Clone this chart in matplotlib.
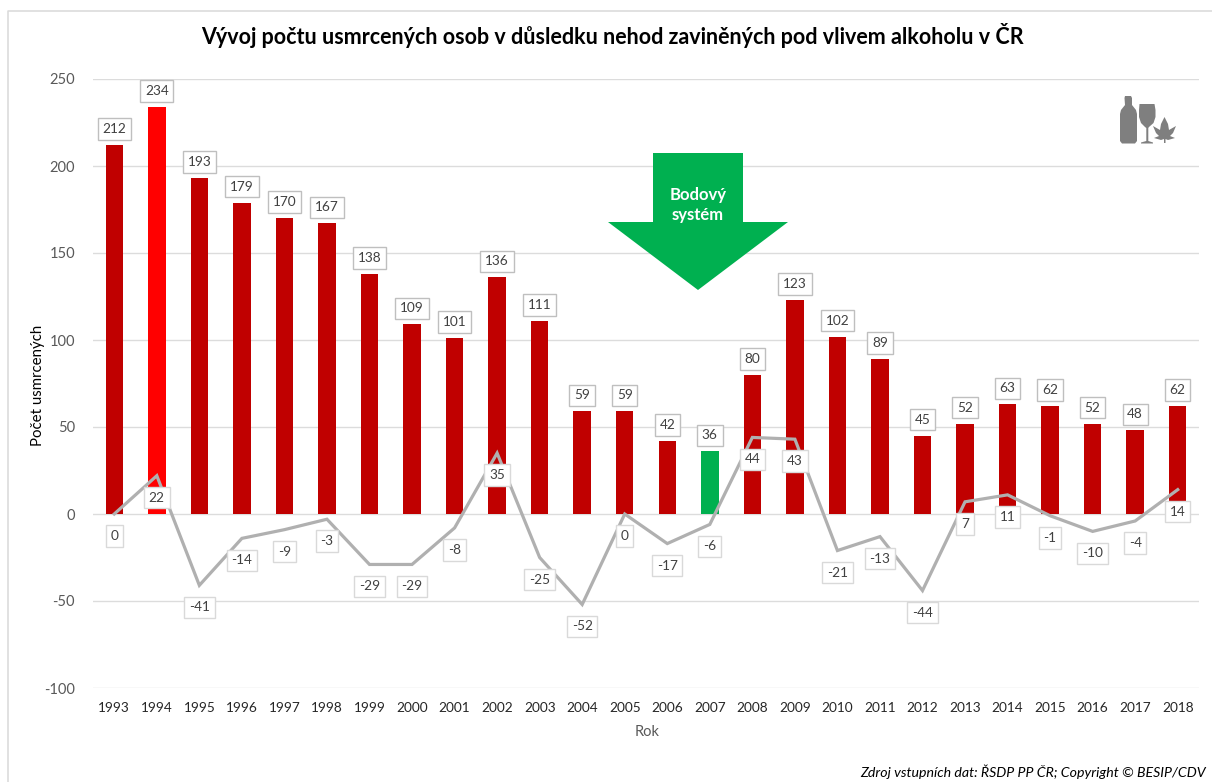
import matplotlib.pyplot as plt
from matplotlib.patches import Polygon
from matplotlib.lines import Line2D

W, H = 1212, 782

roky = list(range(1993, 2019))
usmrceni = [212, 234, 193, 179, 170, 167, 138, 109, 101, 136, 111, 59, 59, 42, 36,
            80, 123, 102, 89, 45, 52, 63, 62, 52, 48, 62]
zmena = [0, 22, -41, -14, -9, -3, -29, -29, -8, 35, -25, -52, 0, -17, -6,
         44, 43, -21, -13, -44, 7, 11, -1, -10, -4, 14]
y_ticks = [-100, -50, 0, 50, 100, 150, 200, 250]

# barvy sloupcu - maximum cervene, minimum zelene
barvy = ['#C00000'] * len(roky)
barvy[roky.index(1994)] = '#FF0000'
barvy[roky.index(2007)] = '#00B050'

plt.rcParams['font.family'] = ['Lato', 'DejaVu Sans']
plt.rcParams['axes.unicode_minus'] = False

fig = plt.figure(figsize=(W / 100, H / 100), dpi=100)
ax = fig.add_axes([93 / W, 1 - 688 / H, (1199 - 93) / W, (688 - 79) / H])

ax.bar(roky, usmrceni, width=0.41, color=barvy, zorder=2)
ax.plot(roky, zmena, color='#B0B0B0', lw=2.3, solid_joinstyle='miter', zorder=3)

ax.set_xlim(1992.5, 2018.5)
ax.set_ylim(-100, 250)
ax.set_yticks(y_ticks)
ax.set_xticks(roky)
ax.grid(axis='y', color='#DCDCDC', lw=1)
ax.set_axisbelow(True)
for s in ax.spines.values():
    s.set_visible(False)
ax.tick_params(axis='both', length=0)
ax.tick_params(axis='x', labelsize=9.8, labelcolor='#262626', pad=10)
ax.tick_params(axis='y', labelsize=10.5, labelcolor='#595959', pad=13)

box = dict(boxstyle='square,pad=0.35', fc='white', ec='#BFBFBF', lw=1)
for r, v in zip(roky, usmrceni):
    ax.annotate(str(v), (r, v), xytext=(0, 16), textcoords='offset pixels', ha='center',
                va='center', fontsize=9.8, color='#404040', bbox=box, zorder=5)
box2 = dict(boxstyle='square,pad=0.35', fc='white', ec='#D9D9D9', lw=1)
for r, v in zip(roky, zmena):
    ax.annotate(str(v), (r, v), xytext=(0, -22), textcoords='offset pixels', ha='center',
                va='center', fontsize=9.8, color='#404040', bbox=box2, zorder=5)


def fx(x):
    return x / W


def fy(y):
    return 1 - y / H


def poly(body, barva):
    fig.add_artist(Polygon([(fx(x), fy(y)) for x, y in body], closed=True, fc=barva, ec='none',
                           transform=fig.transFigure, zorder=6))


# sipka bodovy system
poly([(653, 153), (743, 153), (743, 222), (788, 222), (698, 290), (608, 222), (653, 222)], '#00B050')
fig.text(fx(698), fy(205), 'Bodový\nsystém', color='white', fontweight='bold', fontsize=12,
         ha='center', va='center', linespacing=1.3, zorder=7)

# ikona lahev, sklenice, list
seda = '#7F7F7F'
poly([(1125, 96), (1131, 96), (1132, 98), (1132, 105), (1136, 110), (1137, 114), (1137, 141), (1135, 143.5),
      (1122, 143.5), (1120, 141), (1120, 114), (1121, 110), (1125, 105), (1124.5, 98)], seda)
poly([(1139.5, 104), (1154.5, 104), (1155.5, 110), (1155.5, 117), (1153.5, 123), (1149, 127), (1148.3, 128), (1148.3, 141), (1153, 142.5),
      (1153, 143.5), (1141, 143.5), (1141, 142.5), (1146.3, 141), (1146.3, 128), (1145, 127), (1141, 123), (1139, 117), (1139, 110)], seda)
poly([(1164.5, 117), (1168, 124), (1169, 130), (1176, 126), (1173, 133), (1170, 136), (1175, 138), (1168, 140), (1165.5, 139), (1165.5, 143),
      (1164, 143), (1164, 139), (1161, 140), (1154, 138), (1159, 136), (1156, 133), (1153, 126), (1160, 130), (1161, 124)], seda)

fig.text(fx(612), fy(35), 'Vývoj počtu usmrcených osob v důsledku nehod zaviněných pod vlivem alkoholu v ČR',
         fontsize=15.5, fontweight='bold', color='black', ha='center', va='center')
fig.text(fx(38), fy(385), 'Počet usmrcených', rotation=90, fontsize=10.8, color='black',
         ha='center', va='center')
fig.text(fx(647), fy(732), 'Rok', fontsize=10.5, color='#595959', ha='center', va='center')
fig.text(fx(1206), fy(772), 'Zdroj vstupních dat: ŘSDP PP ČR; Copyright © BESIP/CDV', fontsize=10.2,
         style='italic', color='black', ha='right', va='center')

# okraj grafu - jen nahore a vlevo
fig.add_artist(Line2D([fx(7.5), fx(7.5), 1], [0, fy(10.5), fy(10.5)], color='#D9D9D9', lw=1.1,
                      transform=fig.transFigure))

fig.savefig('out.png', dpi=100)
